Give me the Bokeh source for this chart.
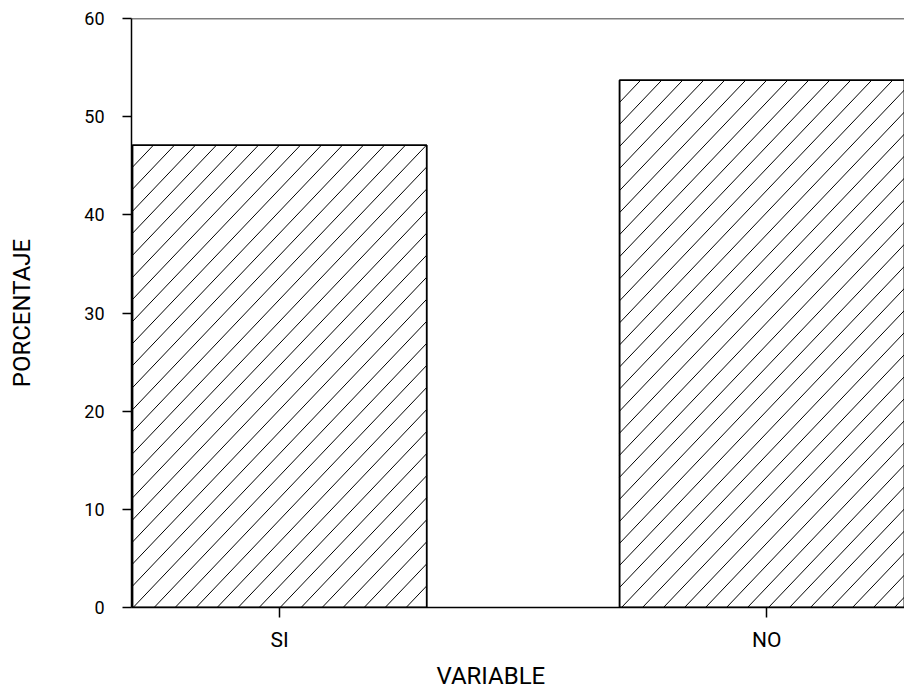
import numpy as np
from bokeh.plotting import figure
from bokeh.models import FixedTicker, Span, Title, ColumnDataSource, Range1d
from bokeh.embed import file_html
from bokeh.resources import INLINE

# ---- data ----
categories = ["SI", "NO"]
values = [47.1, 53.7]
y_ticks = [0, 10, 20, 30, 40, 50, 60]
x_label = "VARIABLE"
y_label = "PORCENTAJE"

FONT = "Roboto"

# ---- layout (pixels) ----
FIG_W, FIG_H = 904, 696
BORDER_L, BORDER_R, BORDER_T, BORDER_B = 131, 0, 18, 89
X_START, X_END = -0.304, 1.283
BAR_W = 0.604

xs = list(range(len(categories)))
source = ColumnDataSource(data=dict(x=xs, top=values, cat=categories))

p = figure(width=FIG_W, height=FIG_H,
           x_range=Range1d(X_START, X_END), y_range=Range1d(y_ticks[0], y_ticks[-1]),
           output_backend="svg", toolbar_location=None,
           min_border_left=BORDER_L, min_border_right=BORDER_R,
           min_border_top=BORDER_T, min_border_bottom=BORDER_B)

p.xgrid.visible = False
p.ygrid.visible = False
p.outline_line_color = None
p.background_fill_color = "white"
p.border_fill_color = "white"

p.vbar(x="x", top="top", width=BAR_W, source=source,
       fill_color="white", line_color="black", line_width=1.5)

# ---- diagonal hatching inside each bar (about 45 degrees on screen) ----
px_per_x = (FIG_W - BORDER_L - BORDER_R) / (X_END - X_START)
px_per_y = (FIG_H - BORDER_T - BORDER_B) / (y_ticks[-1] - y_ticks[0])
slope = 1.05 * px_per_x / px_per_y        # data-units slope for ~46 deg
step = 21.0 / px_per_x                    # 21 px horizontal spacing
hx0, hy0, hx1, hy1 = [], [], [], []
for xc, top in zip(xs, values):
    L, R = xc - BAR_W / 2, xc + BAR_W / 2
    for c in np.arange(L - top / slope, R, step):
        xa = max(L, c)
        xb = min(R, c + top / slope)
        if xb > xa:
            hx0.append(xa); hy0.append(slope * (xa - c))
            hx1.append(xb); hy1.append(slope * (xb - c))
p.segment(x0=hx0, y0=hy0, x1=hx1, y1=hy1, line_color="black", line_width=1)

# redraw bar outlines on top of the hatching
p.vbar(x="x", top="top", width=BAR_W, source=source,
       fill_color=None, line_color="black", line_width=1.5)

# top border line
p.add_layout(Span(location=y_ticks[-1], dimension="width",
                  line_color="black", line_width=1.5))

# x axis
p.xaxis.ticker = FixedTicker(ticks=xs)
p.xaxis.major_label_overrides = {i: c for i, c in enumerate(categories)}
p.xaxis.major_tick_out = 10
p.xaxis.major_tick_in = 0
p.xaxis.minor_tick_out = 0
p.xaxis.minor_tick_in = 0
p.xaxis.axis_line_width = 1.5
p.xaxis.major_tick_line_width = 1.5
p.xaxis.major_label_text_font = FONT
p.xaxis.major_label_text_font_size = "21px"
p.xaxis.major_label_text_color = "black"
p.xaxis.major_label_standoff = 10

# y axis
p.yaxis.ticker = FixedTicker(ticks=y_ticks)
p.yaxis.major_tick_out = 9
p.yaxis.major_tick_in = 0
p.yaxis.minor_tick_out = 0
p.yaxis.minor_tick_in = 0
p.yaxis.axis_line_width = 1.5
p.yaxis.major_tick_line_width = 1.5
p.yaxis.major_label_text_font = FONT
p.yaxis.major_label_text_font_size = "18px"
p.yaxis.major_label_text_color = "black"
p.yaxis.major_label_standoff = 18
p.yaxis.axis_label = y_label
p.yaxis.axis_label_text_font = FONT
p.yaxis.axis_label_text_font_size = "24px"
p.yaxis.axis_label_text_font_style = "normal"
p.yaxis.axis_label_text_color = "black"
p.yaxis.axis_label_standoff = 45

# x axis title (offset left of centre, as in the original)
p.add_layout(Title(text=x_label, align="left", offset=305,
                   text_font=FONT, text_font_size="24px",
                   text_font_style="normal", text_color="black",
                   standoff=11), "below")

open("out.html", "w").write(file_html(p, INLINE))
